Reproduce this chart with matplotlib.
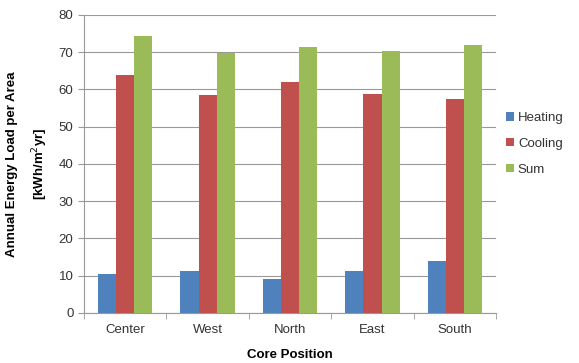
import numpy as np
import matplotlib.pyplot as plt

plt.rcParams['font.family'] = ['Liberation Sans', 'DejaVu Sans']

positions = ['Center', 'West', 'North', 'East', 'South']
heating = [10.4, 11.2, 9.1, 11.2, 14.0]
cooling = [63.8, 58.5, 61.9, 58.8, 57.5]
total = [74.4, 69.9, 71.3, 70.3, 71.8]

series = [('Heating', heating, '#4F81BD'),
          ('Cooling', cooling, '#C0504D'),
          ('Sum', total, '#9BBB59')]

fig = plt.figure(figsize=(5.79, 3.63), dpi=100)
ax = fig.add_axes([0.145, 0.138, 0.712, 0.821])

x = np.arange(len(positions))
w = 0.22
for i, (name, vals, col) in enumerate(series):
    ax.bar(x + (i - 1) * w, vals, w, color=col, label=name, zorder=3)

ax.set_xlim(-0.5, len(positions) - 0.5)
ax.set_ylim(0, 80)
ax.set_yticks(range(0, 81, 10))
ax.set_xticks(x)
ax.set_xticklabels(positions)
ax.set_xticks(np.arange(-0.5, len(positions), 1), minor=True)
ax.tick_params(axis='x', which='major', length=0, pad=8, labelsize=9.5, labelcolor='#333333')
ax.tick_params(axis='x', which='minor', length=4, color='#999999')
ax.tick_params(axis='y', length=4, color='#999999', labelsize=9.5, labelcolor='#333333')

ax.grid(axis='y', color='#999999', linewidth=0.8, zorder=0)
for s in ['top', 'right']:
    ax.spines[s].set_visible(False)
for s in ['left', 'bottom']:
    ax.spines[s].set_color('#999999')

ax.set_ylabel('Annual Energy Load per Area\n[kWh/m$^2$yr]', fontweight='bold',
              fontsize=9.5, linespacing=1.9, labelpad=6)
ax.set_xlabel('Core Position', fontweight='bold', fontsize=9.5, labelpad=9)

ax.legend(loc='center left', bbox_to_anchor=(0.995, 0.567), frameon=False,
          fontsize=9.5, handlelength=0.6, handleheight=0.6, handletextpad=0.3,
          labelspacing=1.05, labelcolor='#333333')

fig.savefig('out.png', dpi=100)
